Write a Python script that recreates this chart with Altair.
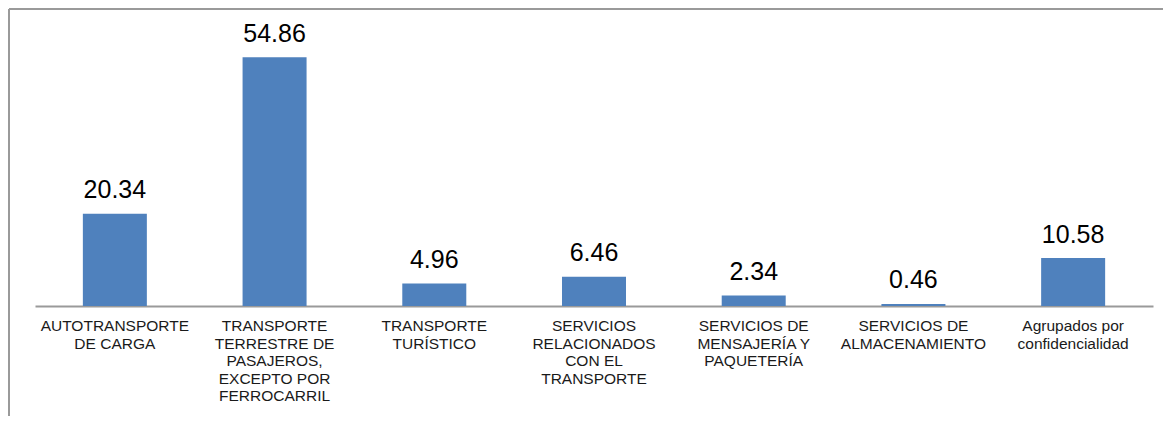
import altair as alt
import pandas as pd

categories = [
    "AUTOTRANSPORTE|DE CARGA",
    "TRANSPORTE|TERRESTRE DE|PASAJEROS,|EXCEPTO POR|FERROCARRIL",
    "TRANSPORTE|TURÍSTICO",
    "SERVICIOS|RELACIONADOS|CON EL|TRANSPORTE",
    "SERVICIOS DE|MENSAJERÍA Y|PAQUETERÍA",
    "SERVICIOS DE|ALMACENAMIENTO",
    "Agrupados por|confidencialidad",
]
values = [20.34, 54.86, 4.96, 6.46, 2.34, 0.46, 10.58]
value_labels = ["20.34", "54.86", "4.96", "6.46", "2.34", "0.46", "10.58"]

df = pd.DataFrame({"cat": categories, "val": values, "lab": value_labels})

FONT = "Liberation Sans"

x = alt.X(
    "cat:N",
    sort=categories,
    title=None,
    scale=alt.Scale(paddingInner=0, paddingOuter=0),
    axis=alt.Axis(
        labelExpr="split(datum.label, '|')",
        labelAngle=0,
        labelFont=FONT,
        labelFontSize=15.5,
        labelLineHeight=17.5,
        labelColor="#1a1a1a",
        labelPadding=12.5,
        labelBaseline="top",
        labelLimit=0,
        ticks=False,
        domainColor="#9a9a9a",
        domainWidth=2,
    ),
)
y = alt.Y("val:Q", scale=alt.Scale(domain=[0, 60], nice=False), axis=None)

base = alt.Chart(df)

bars = base.mark_bar(size=64, color="#4F81BD").encode(x=x, y=y)
texts = base.mark_text(
    font=FONT, fontSize=25, color="#000000", baseline="alphabetic", dy=-15.5
).encode(x=x, y=y, text="lab:N")

frame_data = alt.Data(values=[{"a": 1}])
vline = alt.Chart(frame_data).mark_rule(color="#9a9a9a", strokeWidth=2).encode(
    x=alt.value(-26), y=alt.value(-25), y2=alt.value(400)
)
hline = alt.Chart(frame_data).mark_rule(color="#9a9a9a", strokeWidth=2).encode(
    x=alt.value(-26), x2=alt.value(1130), y=alt.value(-25)
)

chart = (
    alt.layer(bars, texts, vline, hline)
    .properties(
        width=1118,
        height=272,
        autosize=alt.AutoSizeParams(type="none"),
        padding={"left": 27, "top": 26, "right": 10, "bottom": 110},
    )
    .configure_view(stroke=None)
)

chart.save("out.html", embed_options={"renderer": "svg", "actions": False})
